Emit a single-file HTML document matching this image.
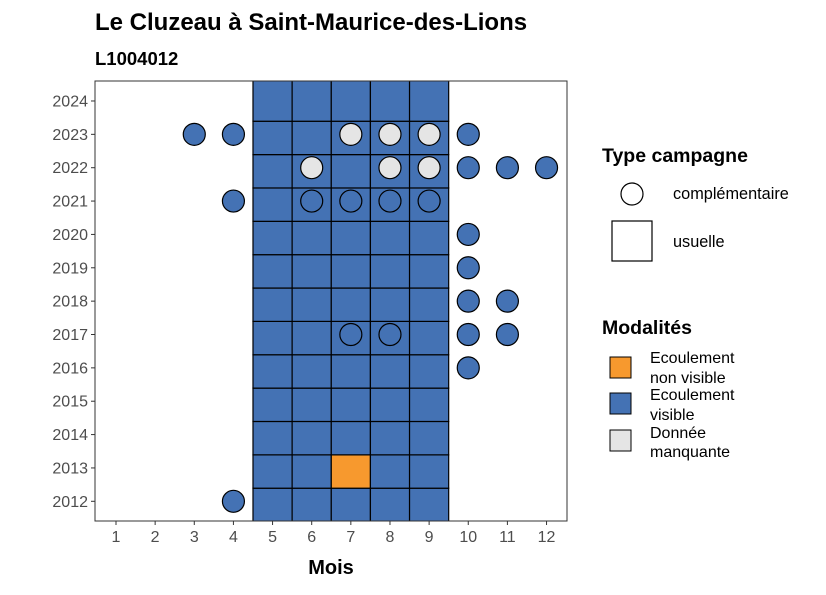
<!DOCTYPE html>
<html><head><meta charset="utf-8"><style>
body{margin:0;background:#fff;font-family:"Liberation Sans",Arial,sans-serif}
svg text{font-family:"Liberation Sans",Arial,sans-serif}
</style></head><body>
<svg id="chart" width="826" height="590" xmlns="http://www.w3.org/2000/svg">
<defs><clipPath id="pc"><rect x="95" y="81" width="472" height="440"/></clipPath></defs>
<text x="95" y="30" font-size="24" font-weight="bold" fill="#000">Le Cluzeau à Saint-Maurice-des-Lions</text>
<text x="95" y="65" font-size="18.5" font-weight="bold" fill="#000">L1004012</text>
<rect x="95" y="81" width="472" height="440" fill="#fff"/>
<g id="tiles" clip-path="url(#pc)"></g>
<rect x="95" y="81" width="472" height="440" fill="none" stroke="#333" stroke-width="1"/>
<g id="points"></g><g id="axes"></g>
<text x="331" y="574" font-size="20" font-weight="bold" text-anchor="middle">Mois</text>
<g>
<text x="602" y="162" font-size="19.5" font-weight="bold">Type campagne</text>
<circle cx="632" cy="194" r="11" fill="#fff" stroke="#000" stroke-width="1.2"/>
<text x="673" y="199" font-size="16.3">complémentaire</text>
<rect x="612" y="221" width="40" height="40" fill="#fff" stroke="#000" stroke-width="1.2"/>
<text x="673" y="247" font-size="16.3">usuelle</text>
</g>
<g>
<text x="602" y="334" font-size="19.5" font-weight="bold">Modalités</text>
<rect x="610" y="357" width="21" height="21" fill="#F7992E" stroke="#000"/>
<text x="650" y="363" font-size="16">Ecoulement</text><text x="650" y="383" font-size="16">non visible</text>
<rect x="610" y="393" width="21" height="21" fill="#4472B4" stroke="#000"/>
<text x="650" y="400" font-size="16">Ecoulement</text><text x="650" y="420" font-size="16">visible</text>
<rect x="610" y="430" width="21" height="21" fill="#E5E5E5" stroke="#000"/>
<text x="650" y="438" font-size="16">Donnée</text><text x="650" y="457" font-size="16">manquante</text>
</g>
</svg>
<script>
const months=[1,2,3,4,5,6,7,8,9,10,11,12];
const years=[2012,2013,2014,2015,2016,2017,2018,2019,2020,2021,2022,2023,2024];
const tileMonths=[5,6,7,8,9];
const orangeTiles=[[2013,7]];
const pointYears=[2023,2023,2023,2023,2023,2023,2022,2022,2022,2022,2022,2022,2021,2021,2021,2021,2021,2020,2019,2018,2018,2017,2017,2017,2017,2016,2012];
const pointMonths=[3,4,7,8,9,10,6,8,9,10,11,12,4,6,7,8,9,10,10,10,11,7,8,10,11,10,4];
const pointStatus=['v','v','m','m','m','v','m','m','m','v','v','v','v','v','v','v','v','v','v','v','v','v','v','v','v','v','v'];
const col={v:'#4472B4',n:'#F7992E',m:'#E5E5E5'};
const xs=m=>116+(m-1)*39.14;
const ys=y=>501.3-(y-2012)*33.36;
const NS='http://www.w3.org/2000/svg';
const mk=(t,a,p)=>{const e=document.createElementNS(NS,t);for(const k in a)e.setAttribute(k,a[k]);p.appendChild(e);return e;};
const tg=document.getElementById('tiles'),pg=document.getElementById('points'),ag=document.getElementById('axes');
const maxY=Math.max(...years);
years.forEach(y=>tileMonths.forEach(m=>{
 const o=orangeTiles.some(t=>t[0]===y&&t[1]===m);
 let top=ys(y)-13.1,h=33.36;
 if(y===maxY){top-=12;h+=12;}
 const r=mk('rect',{x:xs(m)-19.57,y:top,width:39.14,height:h,fill:o?col.n:col.v,stroke:'#000','stroke-width':1.2},tg);
 
 
}));
pointYears.forEach((y,i)=>{
 const c=mk('circle',{cx:xs(pointMonths[i]),cy:ys(y),r:11,fill:col[pointStatus[i]],stroke:'#000','stroke-width':1.2},pg);
 
 
});
months.forEach(m=>{
 mk('line',{x1:xs(m),x2:xs(m),y1:521,y2:525,stroke:'#333'},ag);
 const t=mk('text',{x:xs(m),y:542,'font-size':16,fill:'#4d4d4d','text-anchor':'middle'},ag);t.textContent=m;
 
 
});
years.forEach(y=>{
 mk('line',{x1:91,x2:95,y1:ys(y),y2:ys(y),stroke:'#333'},ag);
 const t=mk('text',{x:88,y:ys(y)+5.5,'font-size':16,fill:'#4d4d4d','text-anchor':'end'},ag);t.textContent=y;
 
 
});
</script>
</body></html>
